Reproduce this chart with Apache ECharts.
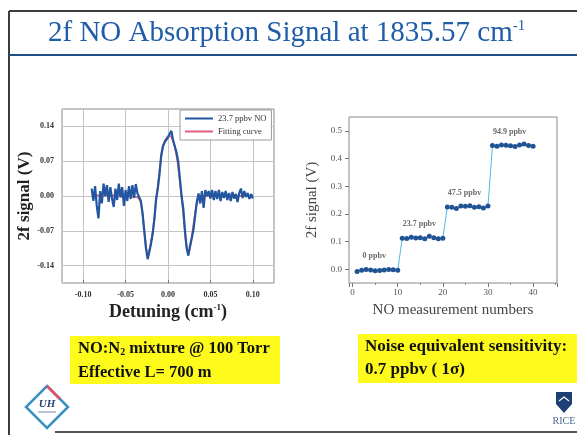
<!DOCTYPE html>
<html>
<head>
<meta charset="utf-8">
<script src="https://cdn.jsdelivr.net/npm/echarts@6/dist/echarts.min.js"></script>
<style>
  html, body { margin: 0; padding: 0; background: #ffffff; }
  #chart { width: 577px; height: 435px; }
</style>
</head>
<body>
<div id="chart"></div>
<script>
// ---- Left panel: 2f scan of 23.7 ppbv NO versus detuning (cm-1) ----
const detuning = [
  -0.090, -0.088, -0.086, -0.084, -0.082, -0.080, -0.078, -0.076, -0.074, -0.072,
  -0.070, -0.068, -0.066, -0.064, -0.062, -0.060, -0.058, -0.056, -0.054, -0.052,
  -0.050, -0.048, -0.046, -0.044, -0.042, -0.040, -0.038, -0.036, -0.034, -0.032,
  -0.030, -0.028, -0.026, -0.024, -0.022, -0.020, -0.018, -0.016, -0.014, -0.012,
  -0.010, -0.008, -0.006, -0.004, -0.002, 0.000, 0.002, 0.004, 0.006, 0.008,
  0.010, 0.012, 0.014, 0.016, 0.018, 0.020, 0.022, 0.024, 0.026, 0.028,
  0.030, 0.032, 0.034, 0.036, 0.038, 0.040, 0.042, 0.044, 0.046, 0.048,
  0.050, 0.052, 0.054, 0.056, 0.058, 0.060, 0.062, 0.064, 0.066, 0.068,
  0.070, 0.072, 0.074, 0.076, 0.078, 0.080, 0.082, 0.084, 0.086, 0.088,
  0.090, 0.092, 0.094, 0.096, 0.098, 0.100
];
const signal2f = [
  0.015, -0.010, 0.020, -0.020, -0.045, 0.010, -0.015, 0.025, 0.000, 0.022,
  -0.012, 0.018, -0.005, -0.022, 0.015, -0.008, 0.025, -0.003, 0.018, -0.020,
  0.012, -0.010, 0.020, -0.006, 0.022, -0.004, 0.024, 0.005, 0.005, -0.010,
  -0.035, -0.070, -0.105, -0.127, -0.112, -0.095, -0.075, -0.045, -0.005, 0.015,
  0.045, 0.082, 0.100, 0.108, 0.112, 0.118, 0.125, 0.131, 0.112, 0.100,
  0.088, 0.070, 0.035, 0.000, -0.025, -0.070, -0.105, -0.120, -0.100, -0.085,
  -0.068, -0.040, -0.012, 0.005, -0.015, 0.010, -0.024, 0.012, 0.000, 0.010,
  -0.005, 0.012, -0.008, 0.010, -0.006, 0.012, -0.010, 0.008, -0.004, 0.010,
  -0.008, 0.006, -0.010, 0.008, -0.005, 0.004, -0.012, 0.006, 0.015, -0.004,
  0.010, -0.002, 0.006, -0.006, 0.004, -0.005
];
const fitDetuning = [
  -0.090, -0.070, -0.050, -0.040, -0.036, -0.034, -0.032, -0.030, -0.028, -0.026,
  -0.024, -0.022, -0.020, -0.018, -0.016, -0.014, -0.012, -0.010, -0.008, -0.006,
  -0.004, -0.002, 0.000, 0.002, 0.004, 0.006, 0.008, 0.010, 0.012, 0.014,
  0.016, 0.018, 0.020, 0.022, 0.024, 0.026, 0.028, 0.030, 0.032, 0.034,
  0.036, 0.040, 0.050, 0.070, 0.100
];
const fitSignal = [
  0.001, 0.001, 0.000, -0.001, -0.003, -0.006, -0.014, -0.036, -0.068, -0.100,
  -0.117, -0.110, -0.092, -0.072, -0.044, -0.010, 0.020, 0.048, 0.078, 0.098,
  0.110, 0.116, 0.120, 0.121, 0.118, 0.110, 0.098, 0.082, 0.060, 0.030,
  -0.002, -0.035, -0.072, -0.102, -0.114, -0.104, -0.082, -0.058, -0.034, -0.014,
  -0.004, 0.000, 0.000, 0.000, 0.000
];
const leftYTicks = [-0.14, -0.07, 0.00, 0.07, 0.14];
const leftSeriesNames = ['23.7 ppbv NO', 'Fitting curve'];

// ---- Right panel: 2f signal for successive NO measurements ----
const measurementNo = [
  1, 2, 3, 4, 5, 6, 7, 8, 9, 10,
  11, 12, 13, 14, 15, 16, 17, 18, 19, 20,
  21, 22, 23, 24, 25, 26, 27, 28, 29, 30,
  31, 32, 33, 34, 35, 36, 37, 38, 39, 40
];
const stepSignal = [
  -0.008, -0.004, -0.001, -0.003, -0.006, -0.005, -0.003, -0.001, -0.002, -0.004,
  0.112, 0.111, 0.115, 0.113, 0.114, 0.110, 0.119, 0.114, 0.110, 0.112,
  0.225, 0.224, 0.219, 0.228, 0.227, 0.229, 0.224, 0.226, 0.221, 0.228,
  0.447, 0.444, 0.449, 0.448, 0.446, 0.443, 0.449, 0.452, 0.447, 0.444
];
const levelNames = ['0 ppbv', '23.7 ppbv', '47.5 ppbv', '94.9 ppbv'];
const pointsPerLevel = 10;

const serif = '"Liberation Serif", "DejaVu Serif", serif';

const leftPoints = detuning.map((x, i) => [x, signal2f[i]]);
const fitPoints = fitDetuning.map((x, i) => [x, fitSignal[i]]);
const stepPoints = measurementNo.map((n, i) => [n, stepSignal[i]]);

// one label per concentration step, anchored above the middle of its run
const levelLabelPoints = levelNames.map((name, k) => {
  const xs = measurementNo.slice(k * pointsPerLevel, (k + 1) * pointsPerLevel);
  const ys = stepSignal.slice(k * pointsPerLevel, (k + 1) * pointsPerLevel);
  const xMid = (xs[0] + xs[xs.length - 1]) / 2;
  const yMean = ys.reduce((a, b) => a + b, 0) / ys.length;
  return { name: name, value: [xMid - 0.7, yMean] };
});

const isMultiple = (v, step) => Math.abs(v / step - Math.round(v / step)) < 1e-6;

const chart = echarts.init(document.getElementById('chart'), null, { renderer: 'canvas' });

chart.setOption({
  backgroundColor: '#ffffff',
  animation: false,
  textStyle: { fontFamily: serif },
  grid: [
    { left: 62, top: 109, width: 212, height: 174, show: true, borderColor: '#8a8a8a', borderWidth: 1, backgroundColor: 'transparent' },
    { left: 349, top: 117, width: 208, height: 166, show: true, borderColor: '#8a8a8a', borderWidth: 1, backgroundColor: 'transparent' }
  ],
  legend: {
    data: [
      { name: leftSeriesNames[0], icon: 'rect' },
      { name: leftSeriesNames[1], icon: 'rect' }
    ],
    orient: 'vertical',
    left: 180,
    top: 110,
    backgroundColor: '#ffffff',
    borderColor: '#9a9a9a',
    borderWidth: 1,
    padding: [4, 5, 4, 5],
    itemGap: 4,
    itemWidth: 28,
    itemHeight: 2,
    textStyle: { fontFamily: serif, fontSize: 8.5, color: '#333333' }
  },
  xAxis: [
    {
      gridIndex: 0, type: 'value', min: -0.125, max: 0.125, splitNumber: 5,
      axisLine: { show: false, onZero: false },
      axisTick: { show: true, inside: true, length: 3, lineStyle: { color: '#777' } },
      axisLabel: {
        showMinLabel: false, showMaxLabel: false, margin: 8,
        fontFamily: serif, fontSize: 8, fontWeight: 'bold', color: '#333',
        formatter: v => v.toFixed(2)
      },
      splitLine: { show: true, lineStyle: { color: '#c4c4c4', width: 1 } },
      name: '{a|Detuning (cm}{s|-1}{a|)}',
      nameLocation: 'middle',
      nameGap: 20,
      nameTextStyle: {
        rich: {
          a: { fontFamily: serif, fontSize: 18, fontWeight: 'bold', color: '#222' },
          s: { fontFamily: serif, fontSize: 9, fontWeight: 'bold', color: '#222', verticalAlign: 'top' }
        }
      }
    },
    {
      gridIndex: 1, type: 'value', min: -0.8, max: 45.3, splitNumber: 5,
      axisLine: { show: false, onZero: false },
      axisTick: { show: true, length: 4, lineStyle: { color: '#777' } },
      minorTick: { show: true, splitNumber: 2, length: 2, lineStyle: { color: '#888' } },
      axisLabel: {
        showMinLabel: false, showMaxLabel: false, margin: 5,
        fontFamily: serif, fontSize: 9, color: '#555'
      },
      splitLine: { show: false },
      name: 'NO measurement numbers',
      nameLocation: 'middle',
      nameGap: 20,
      nameTextStyle: { fontFamily: serif, fontSize: 15, color: '#444' }
    }
  ],
  yAxis: [
    {
      gridIndex: 0, type: 'value', min: -0.175, max: 0.175, interval: 0.035,
      axisLine: { show: false, onZero: false },
      axisTick: { show: false },
      axisLabel: {
        margin: 8, fontFamily: serif, fontSize: 8, fontWeight: 'bold', color: '#333',
        formatter: v => (isMultiple(v, 0.07) && Math.abs(v) < 0.16) ? v.toFixed(2) : ''
      },
      splitLine: { show: false },
      name: '2f signal (V)',
      nameLocation: 'middle',
      nameRotate: 90,
      nameGap: 24,
      nameTextStyle: { fontFamily: serif, fontSize: 17, fontWeight: 'bold', color: '#222' }
    },
    {
      gridIndex: 1, type: 'value', min: -0.05, max: 0.55, splitNumber: 6,
      axisLine: { show: false, onZero: false },
      axisTick: { show: true, length: 4, lineStyle: { color: '#777' } },
      axisLabel: {
        showMinLabel: false, showMaxLabel: false, margin: 7,
        fontFamily: serif, fontSize: 9, color: '#555',
        formatter: v => v.toFixed(1)
      },
      splitLine: { show: false },
      name: '2f signal (V)',
      nameLocation: 'middle',
      nameRotate: 90,
      nameGap: 29,
      nameTextStyle: { fontFamily: serif, fontSize: 15, color: '#444' }
    }
  ],
  series: [
    {
      // horizontal grid lines at the labelled signal levels, kept beneath the traces
      type: 'line', xAxisIndex: 0, yAxisIndex: 0, data: [], silent: true, z: 0,
      markLine: {
        z: 0, silent: true, symbol: ['none', 'none'], label: { show: false },
        lineStyle: { color: '#c4c4c4', width: 1, type: 'solid' },
        data: leftYTicks.map(v => ({ yAxis: v }))
      }
    },
    {
      name: leftSeriesNames[1], type: 'line', xAxisIndex: 0, yAxisIndex: 0,
      data: fitPoints, smooth: 0.3, showSymbol: false, symbol: 'none', z: 2,
      lineStyle: { color: '#e0607e', width: 1.8 }, itemStyle: { color: '#e0607e' }
    },
    {
      name: leftSeriesNames[0], type: 'line', xAxisIndex: 0, yAxisIndex: 0,
      data: leftPoints, showSymbol: false, symbol: 'none', z: 3,
      lineStyle: { color: '#2356a0', width: 2.2 }, itemStyle: { color: '#2356a0' }
    },
    {
      type: 'line', xAxisIndex: 1, yAxisIndex: 1, data: stepPoints,
      symbol: 'circle', symbolSize: 5, showSymbol: true,
      lineStyle: { color: '#57b6e8', width: 1 },
      itemStyle: { color: '#1f5394', borderWidth: 0 }
    },
    {
      type: 'scatter', xAxisIndex: 1, yAxisIndex: 1, data: levelLabelPoints,
      symbolSize: 0, silent: true,
      label: {
        show: true, position: 'top', distance: 10,
        formatter: p => p.name,
        fontFamily: serif, fontSize: 8, fontWeight: 'bold', color: '#444'
      }
    }
  ],
  graphic: [
    // slide frame and title rule
    { type: 'line', shape: { x1: 9, y1: 11, x2: 577, y2: 11 }, style: { stroke: '#3c3c3c', lineWidth: 2 }, z: 10 },
    { type: 'line', shape: { x1: 9, y1: 11, x2: 9, y2: 435 }, style: { stroke: '#3c3c3c', lineWidth: 2 }, z: 10 },
    { type: 'line', shape: { x1: 9, y1: 55, x2: 577, y2: 55 }, style: { stroke: '#1f4f86', lineWidth: 2 }, z: 10 },
    { type: 'line', shape: { x1: 55, y1: 432, x2: 577, y2: 432 }, style: { stroke: '#555555', lineWidth: 2 }, z: 10 },
    {
      type: 'text', x: 48, y: 33, z: 10,
      style: {
        text: '{m|2f NO Absorption Signal at 1835.57 cm}{s|-1}',
        verticalAlign: 'middle',
        rich: {
          m: { fontFamily: serif, fontSize: 29, fill: '#1f5da8' },
          s: { fontFamily: serif, fontSize: 15, fill: '#1f5da8', verticalAlign: 'top' }
        }
      }
    },
    // highlighted notes
    { type: 'rect', shape: { x: 70, y: 336, width: 210, height: 48 }, style: { fill: '#fdfa1c' }, z: 5 },
    { type: 'rect', shape: { x: 358, y: 334, width: 219, height: 49 }, style: { fill: '#fdfa1c' }, z: 5 },
    {
      type: 'text', x: 78, y: 349, z: 6,
      style: {
        text: '{b|NO:N}{u|2}{b| mixture @ 100 Torr}',
        verticalAlign: 'middle',
        rich: {
          b: { fontFamily: serif, fontSize: 16.5, fontWeight: 'bold', fill: '#111' },
          u: { fontFamily: serif, fontSize: 10, fontWeight: 'bold', fill: '#111', verticalAlign: 'bottom' }
        }
      }
    },
    { type: 'text', x: 78, y: 373, z: 6, style: { text: 'Effective L= 700 m', verticalAlign: 'middle', fontFamily: serif, fontSize: 16.5, fontWeight: 'bold', fill: '#111' } },
    { type: 'text', x: 365, y: 347, z: 6, style: { text: 'Noise equivalent sensitivity:', verticalAlign: 'middle', fontFamily: serif, fontSize: 17, fontWeight: 'bold', fill: '#111' } },
    { type: 'text', x: 365, y: 370, z: 6, style: { text: '0.7 ppbv ( 1σ)', verticalAlign: 'middle', fontFamily: serif, fontSize: 17, fontWeight: 'bold', fill: '#111' } },
    // left emblem
    { type: 'polygon', shape: { points: [[47, 386], [68, 407], [47, 428], [26, 407]] }, style: { fill: 'none', stroke: '#3a90bf', lineWidth: 2.5 }, z: 6 },
    { type: 'polyline', shape: { points: [[47, 386], [60, 399]] }, style: { stroke: '#e0506a', lineWidth: 2.5 }, z: 7 },
    { type: 'text', x: 47, y: 404, z: 7, style: { text: 'UH', align: 'center', verticalAlign: 'middle', fontFamily: serif, fontSize: 11, fontWeight: 'bold', fontStyle: 'italic', fill: '#2a3f73' } },
    { type: 'line', shape: { x1: 38, y1: 412, x2: 56, y2: 412 }, style: { stroke: '#7a8aa8', lineWidth: 1 }, z: 7 },
    // right emblem
    { type: 'polygon', shape: { points: [[556, 392], [572, 392], [572, 404], [564, 413], [556, 404]] }, style: { fill: '#1e3f73' }, z: 6 },
    { type: 'polyline', shape: { points: [[559, 401], [564, 397], [569, 401]] }, style: { stroke: '#ffffff', lineWidth: 1.2 }, z: 7 },
    { type: 'text', x: 564, y: 421, z: 6, style: { text: 'RICE', align: 'center', verticalAlign: 'middle', fontFamily: serif, fontSize: 10, fill: '#4a6a90' } }
  ]
});
</script>
</body>
</html>
